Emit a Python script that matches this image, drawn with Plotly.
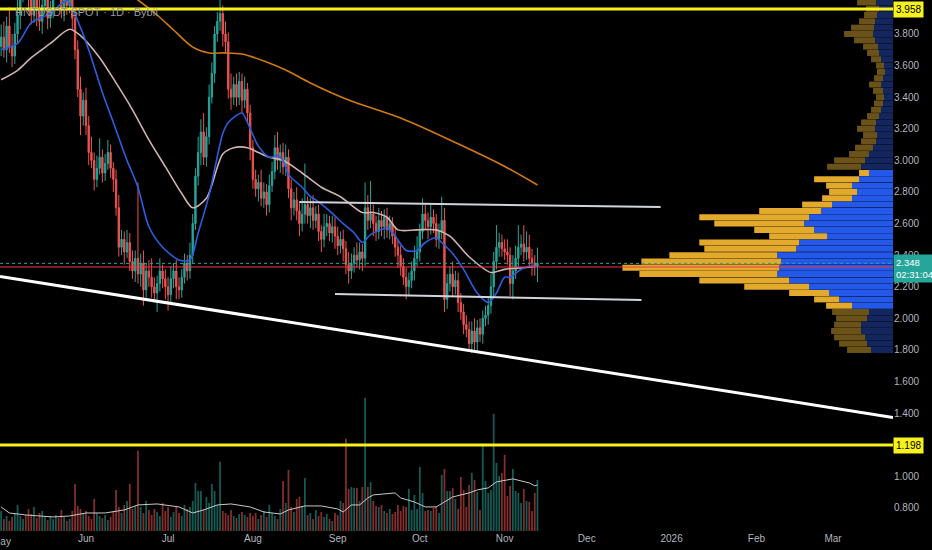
import pandas as pd
import plotly.graph_objects as go

# HNTUSDT spot, daily candles 2025-05-01 .. 2025-11-13 (Bybit)
close_may = [3.78, 3.70, 3.85, 3.72, 3.66, 3.80, 3.92, 4.05, 4.15, 4.10,
             4.02, 3.92, 4.05, 3.95, 3.88, 3.98, 4.08, 3.90, 3.95, 4.10,
             4.20, 4.12, 3.95, 4.02, 3.98, 4.05, 3.90, 3.70, 3.45, 3.28, 3.38]
close_jun = [3.22, 3.05, 3.00, 2.88, 2.95, 3.02, 2.92, 2.98, 3.05, 2.95,
             2.88, 2.70, 2.45, 2.50, 2.42, 2.48, 2.36, 2.30, 2.38, 2.28,
             2.35, 2.18, 2.30, 2.26, 2.20, 2.16, 2.22, 2.30, 2.25, 2.20]
close_jul = [2.15, 2.25, 2.30, 2.20, 2.18, 2.26, 2.35, 2.30, 2.40, 2.60,
             2.90, 3.05, 3.18, 3.02, 3.15, 3.40, 3.55, 3.80, 3.88, 3.93,
             3.80, 3.75, 3.45, 3.40, 3.48, 3.40, 3.50, 3.38, 3.45, 3.30, 3.08]
close_aug = [2.88, 2.82, 2.86, 2.76, 2.80, 2.72, 2.84, 2.93, 3.08, 3.00,
             3.05, 2.96, 3.02, 2.82, 2.70, 2.75, 2.68, 2.60, 2.66, 2.72,
             2.65, 2.70, 2.62, 2.66, 2.55, 2.50, 2.58, 2.60, 2.54, 2.58, 2.52]
close_sep = [2.46, 2.50, 2.44, 2.34, 2.30, 2.35, 2.40, 2.37, 2.42, 2.38,
             2.70, 2.62, 2.66, 2.60, 2.55, 2.62, 2.58, 2.64, 2.56, 2.60,
             2.52, 2.45, 2.40, 2.33, 2.26, 2.20, 2.24, 2.30, 2.38, 2.42]
close_oct = [2.55, 2.66, 2.62, 2.58, 2.64, 2.60, 2.50, 2.55, 2.62, 2.12,
             2.22, 2.28, 2.20, 2.24, 2.10, 2.04, 1.96, 1.93, 1.84, 1.92,
             1.85, 1.94, 1.90, 2.00, 2.02, 2.08, 2.20, 2.36, 2.45, 2.48, 2.44]
close_nov = [2.42, 2.40, 2.22, 2.30, 2.38, 2.45, 2.47, 2.42, 2.45, 2.38,
             2.35, 2.33, 2.348]
first_open = 3.72

# wick lengths above / below the body
up_may = [0.08, 0.10, 0.06, 0.12, 0.08, 0.07, 0.10, 0.06, 0.08, 0.12,
          0.05, 0.10, 0.07, 0.06, 0.09, 0.05, 0.08, 0.10, 0.06, 0.07,
          0.05, 0.09, 0.06, 0.05, 0.08, 0.06, 0.04, 0.05, 0.06, 0.08, 0.05]
lo_may = [0.06, 0.05, 0.08, 0.04, 0.07, 0.05, 0.06, 0.09, 0.05, 0.07,
          0.08, 0.06, 0.05, 0.10, 0.06, 0.08, 0.05, 0.07, 0.06, 0.05,
          0.08, 0.06, 0.05, 0.07, 0.06, 0.05, 0.08, 0.06, 0.05, 0.12, 0.06]
up_jun = [0.08, 0.06, 0.10, 0.05, 0.08, 0.12, 0.05, 0.06, 0.08, 0.05,
          0.04, 0.06, 0.08, 0.06, 0.05, 0.08, 0.06, 0.07, 0.05, 0.48,
          0.06, 0.08, 0.05, 0.07, 0.12, 0.06, 0.05, 0.08, 0.04, 0.06]
lo_jun = [0.06, 0.08, 0.05, 0.07, 0.05, 0.04, 0.06, 0.05, 0.04, 0.06,
          0.08, 0.05, 0.06, 0.05, 0.08, 0.04, 0.06, 0.05, 0.07, 0.06,
          0.08, 0.10, 0.05, 0.06, 0.07, 0.06, 0.12, 0.05, 0.06, 0.08]
up_jul = [0.06, 0.08, 0.05, 0.07, 0.06, 0.05, 0.06, 0.05, 0.08, 0.06,
          0.05, 0.10, 0.08, 0.12, 0.06, 0.08, 0.07, 0.05, 0.06, 0.10,
          0.05, 0.08, 0.06, 0.10, 0.05, 0.07, 0.06, 0.05, 0.08, 0.04, 0.05]
lo_jul = [0.10, 0.05, 0.06, 0.08, 0.06, 0.05, 0.04, 0.06, 0.05, 0.05,
          0.04, 0.06, 0.08, 0.05, 0.06, 0.05, 0.04, 0.06, 0.05, 0.06,
          0.08, 0.07, 0.06, 0.08, 0.05, 0.06, 0.05, 0.08, 0.05, 0.06, 0.08]
up_aug = [0.05, 0.06, 0.05, 0.08, 0.06, 0.05, 0.07, 0.06, 0.08, 0.10,
          0.05, 0.06, 0.08, 0.05, 0.06, 0.05, 0.08, 0.06, 0.10, 0.26,
          0.05, 0.06, 0.08, 0.05, 0.06, 0.04, 0.08, 0.06, 0.05, 0.07, 0.06]
lo_aug = [0.06, 0.05, 0.08, 0.05, 0.06, 0.07, 0.05, 0.04, 0.05, 0.06,
          0.08, 0.05, 0.06, 0.06, 0.08, 0.05, 0.06, 0.08, 0.05, 0.06,
          0.05, 0.08, 0.06, 0.05, 0.06, 0.08, 0.05, 0.06, 0.05, 0.06, 0.08]
up_sep = [0.06, 0.05, 0.06, 0.05, 0.08, 0.06, 0.05, 0.08, 0.06, 0.05,
          0.16, 0.08, 0.21, 0.06, 0.05, 0.08, 0.06, 0.05, 0.06, 0.05,
          0.04, 0.06, 0.05, 0.06, 0.05, 0.06, 0.05, 0.06, 0.08, 0.10]
lo_sep = [0.06, 0.05, 0.08, 0.06, 0.08, 0.05, 0.06, 0.05, 0.06, 0.08,
          0.05, 0.06, 0.05, 0.08, 0.06, 0.05, 0.06, 0.08, 0.05, 0.06,
          0.05, 0.06, 0.08, 0.06, 0.05, 0.08, 0.06, 0.05, 0.06, 0.05]
up_oct = [0.05, 0.10, 0.06, 0.05, 0.08, 0.05, 0.06, 0.05, 0.15, 0.08,
          0.06, 0.05, 0.08, 0.06, 0.05, 0.06, 0.05, 0.06, 0.05, 0.06,
          0.08, 0.05, 0.06, 0.05, 0.06, 0.05, 0.08, 0.06, 0.14, 0.06, 0.05]
lo_oct = [0.06, 0.05, 0.06, 0.08, 0.05, 0.06, 0.05, 0.06, 0.05, 0.08,
          0.06, 0.05, 0.06, 0.05, 0.06, 0.05, 0.06, 0.05, 0.05, 0.06,
          0.05, 0.06, 0.05, 0.06, 0.05, 0.06, 0.05, 0.06, 0.05, 0.06, 0.05]
up_nov = [0.06, 0.08, 0.05, 0.10, 0.08, 0.14, 0.06, 0.12, 0.10, 0.08, 0.06, 0.05, 0.10]
lo_nov = [0.05, 0.06, 0.08, 0.10, 0.05, 0.06, 0.05, 0.06, 0.05, 0.06, 0.08, 0.06, 0.10]

# volume (millions)
vol_may = [2.0, 1.2, 1.5, 1.0, 1.4, 1.8, 2.6, 1.5, 1.2, 1.6,
           2.2, 1.7, 2.4, 1.3, 1.8, 2.0, 1.4, 1.1, 1.5, 1.2,
           1.6, 1.3, 2.1, 1.4, 1.0, 1.2, 2.0, 4.7, 2.5, 2.2, 1.8]
vol_jun = [2.0, 1.5, 1.2, 3.2, 1.8, 1.5, 1.3, 1.6, 1.1, 1.4,
           2.0, 4.1, 2.4, 1.8, 2.6, 3.0, 4.7, 2.2, 2.5, 8.0,
           2.4, 1.8, 3.0, 2.1, 1.6, 2.2, 1.9, 1.5, 2.8, 2.0]
vol_jul = [2.4, 1.4, 1.9, 2.5, 1.8, 1.5, 2.6, 2.2, 2.4, 3.0,
           4.8, 4.0, 4.0, 2.2, 3.4, 2.8, 4.7, 4.0, 2.6, 6.9,
           2.0, 1.8, 1.6, 2.1, 1.5, 1.3, 1.7, 1.9, 1.6, 1.4, 1.8]
vol_aug = [1.5, 1.8, 1.2, 1.6, 2.0, 1.4, 2.6, 1.8, 1.5, 1.2,
           2.2, 5.0, 2.8, 6.1, 2.4, 1.9, 3.2, 3.4, 2.5, 5.3,
           1.6, 1.8, 1.2, 2.1, 1.5, 1.9, 1.4, 1.7, 1.2, 1.0, 1.8]
vol_sep = [1.6, 3.0, 2.8, 9.2, 4.2, 4.4, 4.3, 4.3, 3.0, 4.4,
           13.3, 4.4, 4.9, 3.0, 2.5, 2.4, 2.6, 2.0, 1.8, 2.2,
           1.7, 1.9, 2.6, 2.0, 2.5, 2.4, 4.2, 2.1, 3.6, 2.2]
vol_oct = [6.4, 3.8, 2.0, 2.1, 2.0, 2.3, 2.5, 1.8, 5.6, 6.2,
           4.0, 4.0, 4.3, 3.2, 2.2, 5.4, 4.1, 2.4, 4.6, 5.8,
           5.1, 3.9, 2.1, 8.7, 5.0, 3.8, 4.1, 11.7, 6.8, 5.5, 5.8]
vol_nov = [7.6, 3.5, 4.5, 6.2, 4.0, 3.8, 2.8, 4.2, 3.0, 2.9, 2.0, 3.8, 5.1]

# indicator lines
blue_dates = ['2025-05-01', '2025-05-07', '2025-05-12', '2025-05-19', '2025-05-25', '2025-05-30',
              '2025-06-02', '2025-06-07', '2025-06-11', '2025-06-16', '2025-06-20', '2025-06-24', '2025-06-29',
              '2025-07-05', '2025-07-09', '2025-07-12', '2025-07-16', '2025-07-21', '2025-07-23', '2025-07-28', '2025-07-30',
              '2025-08-03', '2025-08-07', '2025-08-10', '2025-08-12', '2025-08-14', '2025-08-19', '2025-08-22', '2025-08-24', '2025-08-29',
              '2025-09-03', '2025-09-07', '2025-09-10', '2025-09-13', '2025-09-19', '2025-09-22', '2025-09-26', '2025-09-30',
              '2025-10-03', '2025-10-07', '2025-10-09', '2025-10-13', '2025-10-17', '2025-10-22', '2025-10-26', '2025-10-29',
              '2025-11-01', '2025-11-03', '2025-11-07', '2025-11-10', '2025-11-13']
blue_vals = [3.70, 3.74, 3.87, 3.93, 4.01, 3.84,
             3.70, 3.43, 3.24, 3.00, 2.83, 2.58, 2.45,
             2.37, 2.37, 2.54, 2.78, 3.17, 3.24, 3.30, 3.24,
             3.09, 3.02, 3.03, 3.00, 2.91, 2.83, 2.77, 2.75, 2.68,
             2.60, 2.54, 2.48, 2.53, 2.57, 2.52, 2.43, 2.43,
             2.48, 2.51, 2.48, 2.41, 2.31, 2.16, 2.10, 2.16,
             2.26, 2.26, 2.31, 2.33, 2.33]
pink_dates = ['2025-05-01', '2025-05-07', '2025-05-12', '2025-05-19', '2025-05-26', '2025-05-30',
              '2025-06-06', '2025-06-12', '2025-06-18', '2025-06-24', '2025-06-30',
              '2025-07-06', '2025-07-10', '2025-07-15', '2025-07-21', '2025-07-25', '2025-07-30',
              '2025-08-03', '2025-08-07', '2025-08-12', '2025-08-19', '2025-08-26',
              '2025-09-02', '2025-09-10', '2025-09-14', '2025-09-19', '2025-09-23', '2025-09-30',
              '2025-10-07', '2025-10-12', '2025-10-19', '2025-10-27',
              '2025-11-01', '2025-11-08', '2025-11-13']
pink_vals = [3.51, 3.57, 3.65, 3.74, 3.83, 3.79,
             3.65, 3.49, 3.32, 3.13, 2.96,
             2.79, 2.70, 2.76, 3.04, 3.08, 3.08,
             3.05, 3.02, 3.00, 2.92, 2.83,
             2.77, 2.67, 2.67, 2.64, 2.56, 2.56,
             2.56, 2.52, 2.39, 2.29,
             2.31, 2.32, 2.33]
orange_dates = ['2025-06-13', '2025-06-20', '2025-06-27', '2025-07-03', '2025-07-10', '2025-07-16',
                '2025-07-22', '2025-07-28', '2025-08-06', '2025-08-13', '2025-08-22', '2025-09-05',
                '2025-09-24', '2025-10-12', '2025-10-31', '2025-11-13']
orange_vals = [4.10, 4.015, 3.92, 3.825, 3.717, 3.68, 3.68, 3.673, 3.623, 3.572, 3.49, 3.382,
               3.268, 3.129, 2.971, 2.844]
vma_dates = ['2025-05-01', '2025-05-04', '2025-05-10', '2025-05-20', '2025-05-26',
             '2025-06-01', '2025-06-08', '2025-06-15', '2025-06-20', '2025-06-27',
             '2025-07-05', '2025-07-10', '2025-07-14', '2025-07-19', '2025-07-24', '2025-07-31',
             '2025-08-05', '2025-08-11', '2025-08-14', '2025-08-20', '2025-08-26',
             '2025-09-01', '2025-09-03', '2025-09-06', '2025-09-09', '2025-09-12', '2025-09-14',
             '2025-09-22', '2025-09-24', '2025-09-29',
             '2025-10-03', '2025-10-07', '2025-10-10', '2025-10-13', '2025-10-19', '2025-10-22',
             '2025-10-26', '2025-10-29',
             '2025-11-04', '2025-11-10', '2025-11-12', '2025-11-13']
vma_vals = [2.4, 1.8, 1.6, 1.4, 1.5,
            1.8, 1.8, 2.1, 2.6, 2.7,
            2.4, 1.8, 2.1, 2.6, 2.7, 2.4,
            1.9, 1.7, 2.1, 2.5, 2.5,
            2.2, 1.9, 2.6, 2.6, 3.3, 3.6,
            3.8, 3.3, 2.9,
            2.4, 2.4, 2.9, 3.4, 3.8, 4.1,
            4.3, 4.9,
            5.2, 4.8, 4.5, 4.6]

# drawings
trend_dates = ['2025-04-30 14:00', '2026-03-22 22:00']
trend_prices = [2.265, 1.373]
chan_hi_dates = ['2025-08-18', '2025-12-28']
chan_hi_prices = [2.736, 2.705]
chan_lo_dates = ['2025-08-31', '2025-12-21']
chan_lo_prices = [2.154, 2.116]
level_top = 3.958
level_bottom = 1.198
red_level = 2.325
last_price = 2.348
countdown = '02:31:04'

# visible range volume profile (rows of 0.04)
vp_price = [1.80, 1.84, 1.88, 1.92, 1.96, 2.00, 2.04, 2.08, 2.12, 2.16,
            2.20, 2.24, 2.28, 2.32, 2.36, 2.40, 2.44, 2.48, 2.52, 2.56,
            2.60, 2.64, 2.68, 2.72, 2.76, 2.80, 2.84, 2.88, 2.92, 2.96,
            3.00, 3.04, 3.08, 3.12, 3.16, 3.20, 3.24, 3.28, 3.32, 3.36,
            3.40, 3.44, 3.48, 3.52, 3.56, 3.60, 3.64, 3.68, 3.72, 3.76,
            3.80, 3.84, 3.88, 3.92, 3.96, 4.00]
vp_up = [2.2, 2.6, 2.8, 3.2, 3.2, 2.6, 2.4, 4.1, 5.4, 6.4,
         8.4, 10.4, 11.6, 11.4, 11.2, 11.6, 9.7, 9.4, 6.6, 7.9,
         8.9, 8.4, 7.2, 6.1, 4.1, 3.6, 4.1, 3.4, 2.4, 3.2,
         2.8, 2.4, 2.0, 1.7, 1.6, 1.8, 1.7, 1.4, 1.2, 1.0,
         0.9, 1.0, 1.2, 1.0, 0.8, 0.9, 1.2, 1.4, 1.5, 1.8,
         2.0, 1.9, 1.8, 1.6, 1.4, 1.7]
vp_down = [2.4, 2.8, 3.1, 3.0, 2.7, 3.1, 3.7, 2.6, 2.5, 4.0,
           6.5, 9.0, 13.8, 15.7, 14.0, 10.8, 9.2, 10.0, 5.8, 6.0,
           9.0, 11.0, 6.2, 3.0, 3.0, 2.8, 2.6, 4.5, 1.0, 3.4,
           3.1, 2.0, 1.8, 1.5, 1.4, 1.8, 1.5, 1.2, 1.0, 0.9,
           0.8, 1.0, 1.2, 0.9, 0.8, 0.8, 1.0, 1.2, 1.5, 2.1,
           2.9, 2.3, 1.6, 1.3, 1.3, 1.9]
value_area = (2.06, 2.95)

month_ticks = ['2025-05-01', '2025-06-01', '2025-07-01', '2025-08-01', '2025-09-01', '2025-10-01',
               '2025-11-01', '2025-12-01', '2026-01-01', '2026-02-01', '2026-03-01']
month_labels = ['May', 'Jun', 'Jul', 'Aug', 'Sep', 'Oct', 'Nov', 'Dec', '2026', 'Feb', 'Mar']
price_ticks = [0.8, 1.0, 1.4, 1.6, 1.8, 2.0, 2.2, 2.4, 2.6, 2.8, 3.0, 3.2, 3.4, 3.6, 3.8, 4.0]

# ---- assemble candles
close = close_may + close_jun + close_jul + close_aug + close_sep + close_oct + close_nov
wick_up = up_may + up_jun + up_jul + up_aug + up_sep + up_oct + up_nov
wick_lo = lo_may + lo_jun + lo_jul + lo_aug + lo_sep + lo_oct + lo_nov
volume = vol_may + vol_jun + vol_jul + vol_aug + vol_sep + vol_oct + vol_nov
dates = pd.date_range('2025-05-01', periods=len(close), freq='D')

df = pd.DataFrame({'Close': close, 'Volume': volume}, index=dates)
df['Open'] = [first_open] + close[:-1]
df['High'] = df[['Open', 'Close']].max(axis=1) + wick_up
df['Low'] = df[['Open', 'Close']].min(axis=1) - wick_lo

TEAL = '#26a69a'
RED = '#ef5350'
YELLOW = '#f7f21b'
AX_FONT = dict(family='Liberation Sans', size=10, color='#b2b5be')

vol_colors = ['rgba(38,166,154,0.55)' if c >= o else 'rgba(239,83,80,0.55)'
              for o, c in zip(df['Open'], df['Close'])]

in_va = [value_area[0] <= p <= value_area[1] for p in vp_price]
up_col = ['#2358e8' if v else '#13275e' for v in in_va]
dn_col = ['#e2a92c' if v else '#6b5219' for v in in_va]

fig = go.Figure()

# volume profile, anchored to the right edge
fig.add_trace(go.Bar(x=vp_up, y=vp_price, orientation='h', xaxis='x2', yaxis='y',
                     marker=dict(color=up_col, line=dict(width=0)), width=0.038,
                     hoverinfo='skip', showlegend=False))
fig.add_trace(go.Bar(x=vp_down, y=vp_price, base=vp_up, orientation='h', xaxis='x2', yaxis='y',
                     marker=dict(color=dn_col, line=dict(width=0)), width=0.038,
                     hoverinfo='skip', showlegend=False))

# volume
fig.add_trace(go.Bar(x=df.index, y=df['Volume'], yaxis='y2',
                     marker=dict(color=vol_colors, line=dict(width=0)),
                     showlegend=False, name='Volume'))
fig.add_trace(go.Scatter(x=vma_dates, y=vma_vals, yaxis='y2', mode='lines',
                         line=dict(color='#c8c8c8', width=1), showlegend=False))

# candles
fig.add_trace(go.Candlestick(
    x=df.index, open=df['Open'], high=df['High'], low=df['Low'], close=df['Close'],
    increasing=dict(line=dict(color=TEAL, width=1), fillcolor=TEAL),
    decreasing=dict(line=dict(color=RED, width=1), fillcolor=RED),
    whiskerwidth=0, showlegend=False, name='HNTUSDT'
))

# moving averages
fig.add_trace(go.Scatter(x=orange_dates, y=orange_vals, mode='lines',
                         line=dict(color='#d17a12', width=1.6, shape='spline', smoothing=0.8),
                         showlegend=False))
fig.add_trace(go.Scatter(x=pink_dates, y=pink_vals, mode='lines',
                         line=dict(color='#cfb2ae', width=1.6, shape='spline', smoothing=0.8),
                         showlegend=False))
fig.add_trace(go.Scatter(x=blue_dates, y=blue_vals, mode='lines',
                         line=dict(color='#2a5fe0', width=1.6, shape='spline', smoothing=0.8),
                         showlegend=False))

# trend line and range lines
fig.add_trace(go.Scatter(x=trend_dates, y=trend_prices, mode='lines',
                         line=dict(color='#ffffff', width=3), showlegend=False))
fig.add_trace(go.Scatter(x=chan_hi_dates, y=chan_hi_prices, mode='lines',
                         line=dict(color='#d1d4dc', width=2), showlegend=False))
fig.add_trace(go.Scatter(x=chan_lo_dates, y=chan_lo_prices, mode='lines',
                         line=dict(color='#d1d4dc', width=2), showlegend=False))

# horizontal levels
for lvl, col, w, dash in [(level_top, YELLOW, 3, 'solid'), (level_bottom, YELLOW, 3, 'solid'),
                          (red_level, '#f23645', 1.2, 'solid'), (last_price, TEAL, 1, 'dot')]:
    fig.add_shape(type='line', xref='paper', x0=0, x1=1, yref='y', y0=lvl, y1=lvl,
                  line=dict(color=col, width=w, dash=dash), layer='above')

# price tags on the axis
for lvl in (level_top, level_bottom):
    fig.add_annotation(xref='paper', x=1, xanchor='left', yref='y', y=lvl, yanchor='middle',
                       text=f'{lvl:.3f}', showarrow=False, bgcolor=YELLOW, borderpad=2,
                       font=dict(family='Liberation Sans', size=10, color='#000000'))
fig.add_annotation(xref='paper', x=1, xanchor='left', yref='y', y=last_price, yanchor='top',
                   yshift=9, text=f'{last_price:.3f}<br>{countdown}', showarrow=False,
                   bgcolor=TEAL, borderpad=2, align='left',
                   font=dict(family='Liberation Sans', size=9.5, color='#ffffff'))

fig.add_annotation(xref='paper', yref='paper', x=0.014, y=0.978, xanchor='left', yanchor='middle',
                   text='HNTUSDT SPOT · 1D · Bybit', showarrow=False,
                   font=dict(family='Liberation Sans', size=11, color='#9598a1'))
# first month label sits on the left edge and is cut, as on the original
fig.add_annotation(xref='x', yref='paper', x=month_ticks[0], y=0, yanchor='top', yshift=-3,
                   text=month_labels[0], showarrow=False, font=AX_FONT)

vp_span = max(u + d for u, d in zip(vp_up, vp_down)) / 0.303

fig.update_layout(
    width=932, height=550,
    margin=dict(l=0, r=39, t=0, b=19),
    paper_bgcolor='#000000', plot_bgcolor='#000000',
    barmode='overlay', bargap=0.35,
    hovermode='x',
    xaxis=dict(type='date', range=['2025-04-30 14:00', '2026-03-22 22:00'],
               rangeslider=dict(visible=False), showgrid=False, zeroline=False, showline=False,
               tickvals=month_ticks[1:], ticktext=month_labels[1:], tickfont=AX_FONT, ticks=''),
    xaxis2=dict(overlaying='x', anchor='y', range=[vp_span, 0], visible=False),
    yaxis=dict(side='right', range=[0.654, 4.015], tickvals=price_ticks, tickformat='.3f',
               showgrid=False, zeroline=False, showline=False, tickfont=AX_FONT, ticks=''),
    yaxis2=dict(overlaying='y', range=[0, 53], visible=False),
)

fig.write_html("out.html", config={'displayModeBar': False},
               post_script="document.body.style.margin='0';document.body.style.overflow='hidden';")
